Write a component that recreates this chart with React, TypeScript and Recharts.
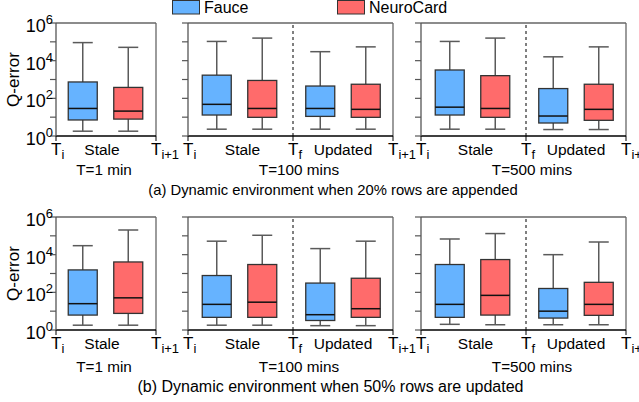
import React from 'react';
import { ComposedChart, Bar, XAxis, YAxis, ReferenceLine } from 'recharts';

const FONT = 'Arial, "Liberation Sans", Helvetica, sans-serif';

const SERIES = ['Fauce', 'NeuroCard'];
const SERIES_COLORS = ['#66b3ff', '#ff6b6b'];
const PHASES = ['Stale', 'Updated'];
const Y_TICKS = [1, 10, 100, 1000, 10000, 100000, 1000000];
const DURATIONS = ['T=1 min', 'T=100 mins', 'T=500 mins'];
const CAPTIONS = [
  '(a) Dynamic environment when 20% rows are appended',
  '(b) Dynamic environment when 50% rows are updated',
];

// five-number summaries of Q-error: [min, q1, median, q3, max]
const a1FauceStale = [1.8, 7.1, 29, 740, 91000];
const a1NeuroStale = [1.8, 7.9, 21, 380, 51000];
const a2FauceStale = [2.3, 13, 48, 1700, 105000];
const a2NeuroStale = [2.3, 9.8, 29, 890, 158000];
const a2FauceUpdated = [2.3, 11, 29, 450, 30000];
const a2NeuroUpdated = [2.3, 9.8, 26, 560, 54000];
const a3FauceStale = [2.3, 13, 34, 3200, 105000];
const a3NeuroStale = [2.3, 9.8, 29, 1600, 158000];
const a3FauceUpdated = [2.2, 4.9, 11.5, 330, 16000];
const a3NeuroUpdated = [2.2, 6.8, 26, 560, 54000];
const b1FauceStale = [1.8, 6.2, 25, 1550, 30000];
const b1NeuroStale = [1.8, 7.6, 51, 4100, 204000];
const b2FauceStale = [1.8, 4.7, 23, 780, 52000];
const b2NeuroStale = [1.8, 4.7, 30, 3000, 107000];
const b2FauceUpdated = [1.7, 3.2, 6.5, 310, 21000];
const b2NeuroUpdated = [1.7, 4.7, 13.5, 560, 52000];
const b3FauceStale = [2.0, 4.7, 23, 3000, 68000];
const b3NeuroStale = [1.9, 6.2, 69, 5500, 132000];
const b3FauceUpdated = [1.9, 4.3, 10, 160, 10000];
const b3NeuroUpdated = [1.9, 6.0, 23, 340, 47000];

// layout
const ROW_TOPS = [23, 217];
const PLOT_H = 113;
const COLS = [
  { left: 56, w: 100, offset: 27 },
  { left: 187.5, w: 205, offset: 29 },
  { left: 421, w: 205, offset: 29 },
];
const GROUP_STEP = 103.5;
const SERIES_STEP = 45.5;
const SPLIT = 105;

const PANELS = [
  { row: 0, col: 0, groups: [[a1FauceStale, a1NeuroStale]] },
  { row: 0, col: 1, groups: [[a2FauceStale, a2NeuroStale], [a2FauceUpdated, a2NeuroUpdated]] },
  { row: 0, col: 2, groups: [[a3FauceStale, a3NeuroStale], [a3FauceUpdated, a3NeuroUpdated]] },
  { row: 1, col: 0, groups: [[b1FauceStale, b1NeuroStale]] },
  { row: 1, col: 1, groups: [[b2FauceStale, b2NeuroStale], [b2FauceUpdated, b2NeuroUpdated]] },
  { row: 1, col: 2, groups: [[b3FauceStale, b3NeuroStale], [b3FauceUpdated, b3NeuroUpdated]] },
];

const txt = { fontFamily: FONT };

const BoxShape = (props: any) => {
  const { x, y, width, height } = props;
  const p = props.payload || props;
  const s: number[] = p.stats;
  const top = Math.min(y, y + height);
  const bot = Math.max(y, y + height);
  const lmin = Math.log10(s[0]);
  const lmax = Math.log10(s[4]);
  const k = (bot - top) / (lmax - lmin);
  const py = (v: number) => bot - (Math.log10(v) - lmin) * k;
  const cx = x + width / 2;
  const cap = 10;
  const wc = '#5a5a5a';
  return (
    <g>
      <line x1={cx} x2={cx} y1={top} y2={py(s[3])} stroke={wc} strokeWidth={1.5} />
      <line x1={cx} x2={cx} y1={py(s[1])} y2={bot} stroke={wc} strokeWidth={1.5} />
      <line x1={cx - cap} x2={cx + cap} y1={top} y2={top} stroke={wc} strokeWidth={1.5} />
      <line x1={cx - cap} x2={cx + cap} y1={bot} y2={bot} stroke={wc} strokeWidth={1.5} />
      <rect x={x} y={py(s[3])} width={width} height={py(s[1]) - py(s[3])} fill={SERIES_COLORS[p.series]} stroke="#333" strokeWidth={1.3} />
      <line x1={x} x2={x + width} y1={py(s[2])} y2={py(s[2])} stroke="#111" strokeWidth={1.5} />
    </g>
  );
};

const makeYTick = (show: boolean) => (props: any) => {
  const { x, y, payload } = props;
  const e = Math.round(Math.log10(payload.value));
  if (!show || e % 2 !== 0) return <g />;
  return (
    <text x={x + 5} y={y + 9} textAnchor="end" fontSize={18} style={txt} fill="#000">
      10<tspan dy={-8} fontSize={13}>{e}</tspan>
    </text>
  );
};

type TickDef = { v: number; t: string; sub?: string };

const makeXTick = (defs: TickDef[]) => (props: any) => {
  const { x, y, payload } = props;
  const d = defs.find((q) => Math.abs(q.v - payload.value) < 0.01);
  if (!d) return <g />;
  if (d.sub !== undefined) {
    return (
      <g>
        <line x1={x} x2={x} y1={y} y2={y + 5} stroke="#000" strokeWidth={1} />
        <text x={x - 5} y={y + 19} fontSize={17} style={txt} fill="#000">
          T<tspan dy={4} fontSize={13}>{d.sub}</tspan>
        </text>
      </g>
    );
  }
  return (
    <text x={x} y={y + 19} textAnchor="middle" fontSize={15.5} style={txt} fill="#000">
      {d.t}
    </text>
  );
};

const Panel = ({ panel }: { panel: any }) => {
  const col = COLS[panel.col];
  const plotTop = ROW_TOPS[panel.row];
  const yW = panel.col === 0 ? 56 : 30;
  const mt = 16;
  const mr = 26;
  const xH = 34;
  const two = panel.groups.length > 1;
  const data: any[] = [];
  panel.groups.forEach((g: number[][], gi: number) => {
    g.forEach((stats: number[], si: number) => {
      data.push({
        pos: col.offset + gi * GROUP_STEP + si * SERIES_STEP,
        range: [stats[0], stats[4]],
        stats,
        series: si,
        phase: PHASES[gi],
        name: SERIES[si],
      });
    });
  });
  const defs: TickDef[] = two
    ? [
        { v: 0, t: 'T', sub: 'i' },
        { v: 54.5, t: PHASES[0] },
        { v: SPLIT, t: 'T', sub: 'f' },
        { v: 155, t: PHASES[1] },
        { v: col.w, t: 'T', sub: 'i+1' },
      ]
    : [
        { v: 0, t: 'T', sub: 'i' },
        { v: 46, t: PHASES[0] },
        { v: col.w, t: 'T', sub: 'i+1' },
      ];
  const W = yW + col.w + mr;
  const H = mt + PLOT_H + xH;
  return (
    <div style={{ position: 'absolute', left: col.left - yW, top: plotTop - mt, width: W, height: H }}>
      <ComposedChart width={W} height={H} data={data} margin={{ top: mt, right: mr, left: 0, bottom: 0 }}>
        <XAxis
          dataKey="pos"
          type="number"
          domain={[0, col.w]}
          ticks={defs.map((d) => d.v)}
          interval={0}
          allowDataOverflow
          height={xH}
          tickSize={0}
          tickMargin={0}
          tickLine={false}
          axisLine={{ stroke: '#000', strokeWidth: 1.3 }}
          tick={makeXTick(defs)}
        />
        <YAxis
          type="number"
          scale="log"
          domain={[1, 1000000]}
          ticks={Y_TICKS}
          interval={0}
          allowDataOverflow
          width={yW}
          tickSize={6}
          tickMargin={2}
          tickLine={{ stroke: '#555', strokeWidth: 1.2 }}
          axisLine={{ stroke: '#555', strokeWidth: 1.3 }}
          tick={makeYTick(panel.col === 0)}
        />
        <ReferenceLine y={1000000} stroke="#666" strokeWidth={1.3} ifOverflow="visible" />
        <ReferenceLine x={col.w} stroke="#666" strokeWidth={1.3} ifOverflow="visible" />
        {two && <ReferenceLine x={SPLIT} stroke="#000" strokeWidth={1} strokeDasharray="3 3" ifOverflow="visible" />}
        <Bar dataKey="range" barSize={29} isAnimationActive={false} shape={BoxShape} />
      </ComposedChart>
    </div>
  );
};

const DURATION_X = [104, 299, 532];
const DURATION_Y = [175, 372];
const CAPTION_X = [333, 330.5];
const CAPTION_Y = [195, 392];
const CAPTION_SIZE = [14.8, 16];

export default function App() {
  return (
    <div style={{ position: 'absolute', left: 0, top: 0, width: 639, height: 402, background: '#fff', fontFamily: FONT }}>
      <svg width={639} height={402} style={{ position: 'absolute', left: 0, top: 0 }}>
        <rect x={172.5} y={0.5} width={27} height={13.5} fill={SERIES_COLORS[0]} stroke="#333" strokeWidth={1} />
        <text x={204} y={13} fontSize={16} style={txt}>{SERIES[0]}</text>
        <rect x={337.5} y={0.5} width={27} height={13.5} fill={SERIES_COLORS[1]} stroke="#333" strokeWidth={1} />
        <text x={369} y={13} fontSize={16} style={txt}>{SERIES[1]}</text>
        {ROW_TOPS.map((t, r) => (
          <text key={'q' + r} transform={`translate(19, ${t + PLOT_H / 2}) rotate(-90)`} textAnchor="middle" fontSize={17} style={txt}>
            Q-error
          </text>
        ))}
        {DURATION_Y.map((yy, r) =>
          DURATIONS.map((d, c) => (
            <text key={'d' + r + c} x={DURATION_X[c]} y={yy} textAnchor="middle" fontSize={15.3} style={txt}>
              {d}
            </text>
          ))
        )}
        {CAPTIONS.map((c, r) => (
          <text key={'c' + r} x={CAPTION_X[r]} y={CAPTION_Y[r]} textAnchor="middle" fontSize={CAPTION_SIZE[r]} style={txt}>
            {c}
          </text>
        ))}
      </svg>
      {PANELS.map((p, i) => (
        <Panel key={i} panel={p} />
      ))}
    </div>
  );
}
